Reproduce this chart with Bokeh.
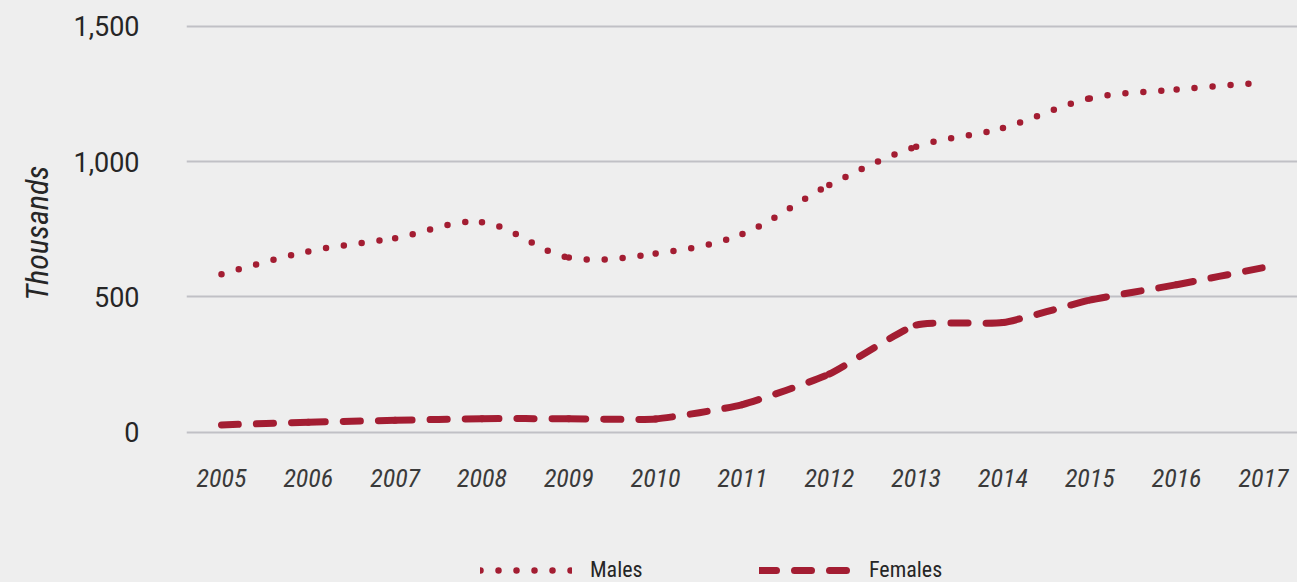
from bokeh.plotting import figure
from bokeh.models import (FixedTicker, NumeralTickFormatter, Legend, LegendItem, Title,
                          GlobalInlineStyleSheet, ColumnDataSource)
from bokeh.embed import file_html
from bokeh.resources import INLINE

# ---- data (thousands) ----
years = [2005, 2006, 2007, 2008, 2009, 2010, 2011, 2012, 2013, 2014, 2015, 2016, 2017]
males = [584, 668, 717, 776, 645, 660, 732, 913, 1055, 1124, 1233, 1266, 1292]
females = [27, 37, 44, 50, 50, 49, 102, 215, 396, 405, 488, 545, 608]
x_ticks = years
y_ticks = [0, 500, 1000, 1500]
series_labels = ["Males", "Females"]
y_axis_title = "Thousands"

RED = "#A31D32"
BG = "#EEEEEE"
TXT = "#262626"
NARROW = "'Roboto Condensed', 'Liberation Sans Narrow', 'Arial Narrow', Roboto"

# frame spans the whole canvas; x axis is pinned at a data position
p = figure(width=1297, height=582, output_backend="svg", toolbar_location=None,
           x_range=(2004.597, 2017.392), y_range=(-555.2, 1594.9),
           min_border_left=186, min_border_right=0, min_border_top=0, min_border_bottom=0,
           background_fill_color=BG, border_fill_color=BG, outline_line_color=None)
p.stylesheets = [GlobalInlineStyleSheet(css="body { background-color: #eeeeee; }")]

styles = [dict(line_color=RED, line_width=6.5, line_dash="0 18", line_cap="round"),
          dict(line_color=RED, line_width=7, line_dash="17 18", line_cap="round")]
tensions = [0.5, 0.25]

legend_renderers = []
for vals, st, tn in zip([males, females], styles, tensions):
    try:
        from bokeh.models import Spline
        src = ColumnDataSource(dict(x=years, y=vals))
        p.add_glyph(src, Spline(x="x", y="y", tension=tn, **st))
    except ImportError:
        n = len(years)
        x0, y0, x1, y1, cx0, cy0, cx1, cy1 = ([] for _ in range(8))
        for i in range(n - 1):
            a = max(i - 1, 0); b = min(i + 2, n - 1)
            x0.append(years[i]); y0.append(vals[i]); x1.append(years[i + 1]); y1.append(vals[i + 1])
            cx0.append(years[i] + tn * (years[i + 1] - years[a]) / 3)
            cy0.append(vals[i] + tn * (vals[i + 1] - vals[a]) / 3)
            cx1.append(years[i + 1] - tn * (years[b] - years[i]) / 3)
            cy1.append(vals[i + 1] - tn * (vals[b] - vals[i]) / 3)
        p.bezier(x0=x0, y0=y0, x1=x1, y1=y1, cx0=cx0, cy0=cy0, cx1=cx1, cy1=cy1, **st)
    # single-point line with the same style: draws nothing, supplies the legend sample
    legend_renderers.append(p.line(x=years[:1], y=vals[:1], **st))

# axes
p.xaxis.ticker = FixedTicker(ticks=x_ticks)
p.xaxis.fixed_location = -30.7
p.yaxis.ticker = FixedTicker(ticks=y_ticks)
p.yaxis.formatter = NumeralTickFormatter(format="0,0")
for ax in (p.xaxis[0], p.yaxis[0]):
    ax.axis_line_color = None
    ax.major_tick_line_color = None
    ax.minor_tick_line_color = None

p.xaxis.major_label_text_color = "#3a3a3a"
p.xaxis.major_label_text_font = NARROW
p.xaxis.major_label_text_font_style = "italic"
p.xaxis.major_label_text_font_size = "26px"
p.xaxis.major_label_standoff = 22

p.yaxis.major_label_text_color = TXT
p.yaxis.major_label_text_font = "Roboto"
p.yaxis.major_label_text_font_size = "27px"
p.yaxis.major_label_standoff = 41

p.add_layout(Title(text=y_axis_title, align="right", offset=165, standoff=29,
                   text_font=NARROW, text_font_style="italic", text_font_size="32px",
                   text_color=TXT), "left")

p.xgrid.grid_line_color = None
p.ygrid.grid_line_color = "#C0C0C5"
p.ygrid.grid_line_width = 2

legend = Legend(items=[LegendItem(label=series_labels[0], renderers=[legend_renderers[0]]),
                       LegendItem(label=series_labels[1], renderers=[legend_renderers[1]])],
                orientation="horizontal", location=(294, 0),
                glyph_width=92, glyph_height=22, label_standoff=18, label_width=60,
                spacing=109, padding=0, margin=0, border_line_color=None,
                background_fill_alpha=0, label_text_font=NARROW,
                label_text_font_size="22px", label_text_color=TXT)
p.add_layout(legend)

open("out.html", "w").write(file_html(p, INLINE))
